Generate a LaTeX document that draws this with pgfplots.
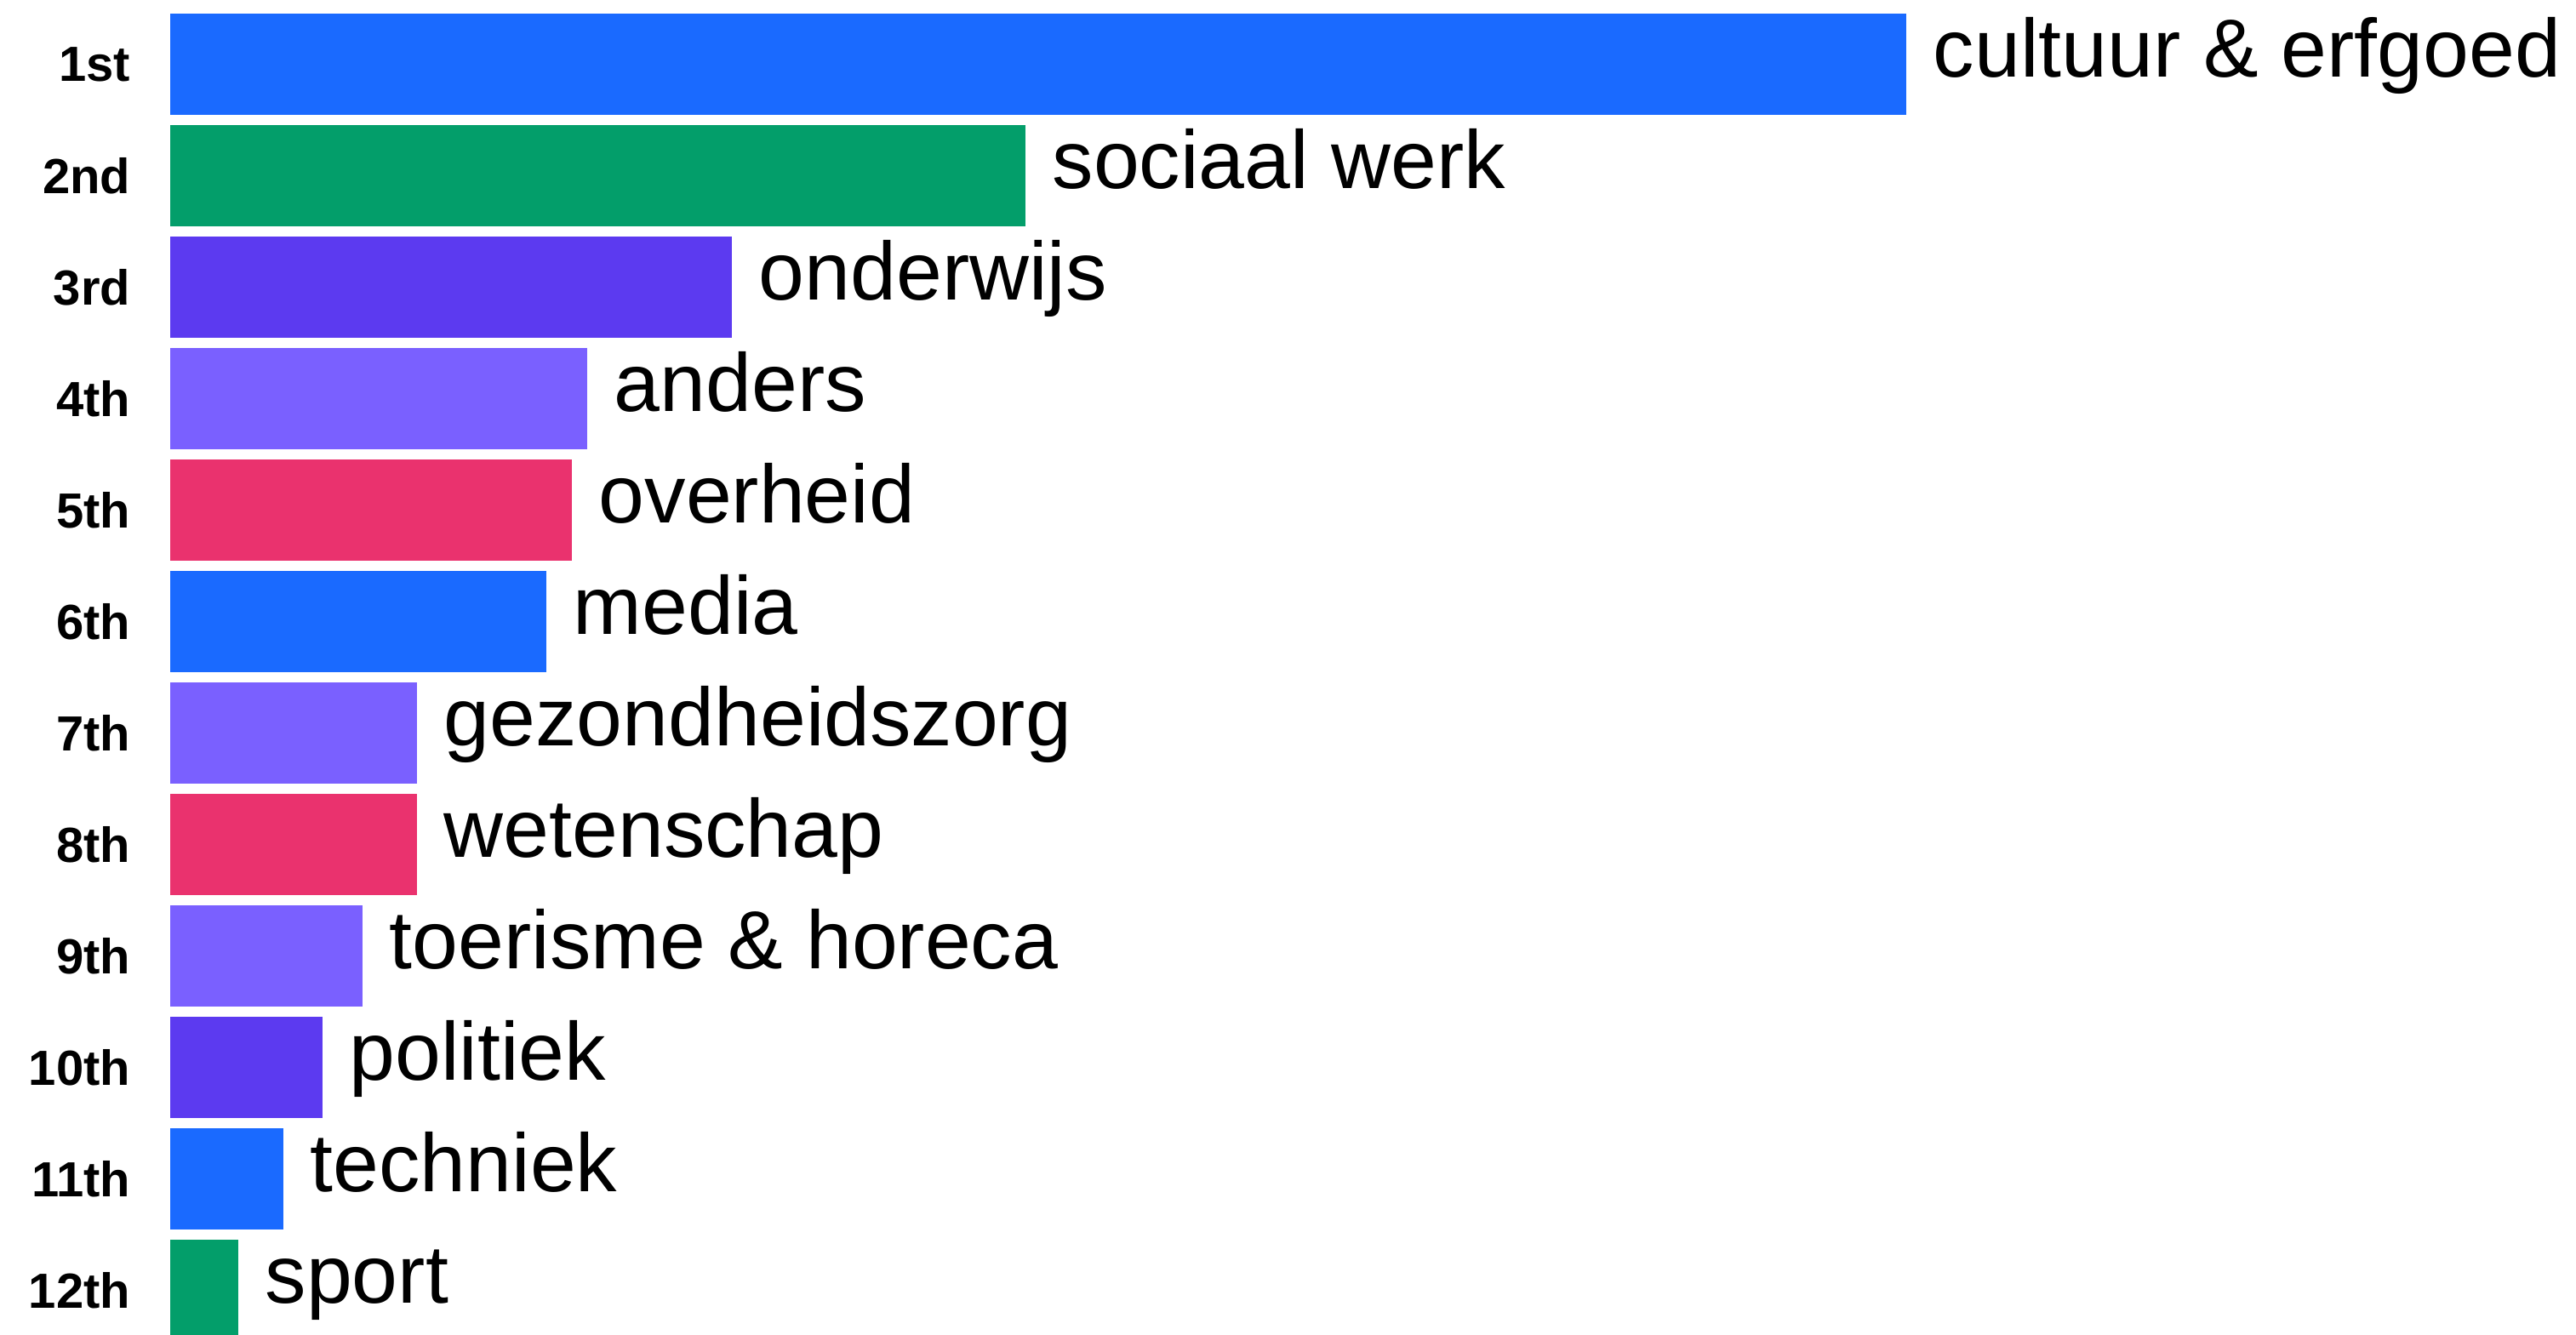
\documentclass[border=0pt]{standalone}
\usepackage{fontspec}
\setmainfont{Liberation Sans}
\usepackage{pgfplots}
\pgfplotsset{compat=1.18}
\definecolor{cblue}{HTML}{1A6AFF}
\definecolor{cgreen}{HTML}{039E6A}
\definecolor{cdpurple}{HTML}{5C3AF0}
\definecolor{clpurple}{HTML}{7A60FF}
\definecolor{cpink}{HTML}{EA326E}
\pgfplotsset{mybar/.style={xbar, bar width=29.75pt, bar shift=0pt, draw=none, fill=#1}}
\begin{document}
\begin{tikzpicture}
\path[use as bounding box] (-50pt,0pt) rectangle (706.75pt,392.25pt);
\clip (-50pt,0pt) rectangle (706.75pt,392.25pt);
\begin{axis}[
  at={(0pt,0pt)}, anchor=south west,
  scale only axis, width=706.75pt, height=392.25pt,
  xmin=0, xmax=138.578, ymin=0.4237, ymax=12.401, y dir=reverse,
  axis line style={draw=none}, xtick=\empty,
  ytick={1,2,3,4,5,6,7,8,9,10,11,12},
  yticklabels={1st,2nd,3rd,4th,5th,6th,7th,8th,9th,10th,11th,12th},
  major tick length=0pt, tick style={draw=none},
  yticklabel style={font=\fontsize{14.5}{17}\selectfont\bfseries, inner sep=0pt, xshift=-11.5pt, anchor=east},
]
\addplot[mybar=cblue] coordinates {(100,1)};
\addplot[mybar=cgreen] coordinates {(49.26,2)};
\addplot[mybar=cdpurple] coordinates {(32.35,3)};
\addplot[mybar=clpurple] coordinates {(24.02,4)};
\addplot[mybar=cpink] coordinates {(23.14,5)};
\addplot[mybar=cblue] coordinates {(21.67,6)};
\addplot[mybar=clpurple] coordinates {(14.22,7)};
\addplot[mybar=cpink] coordinates {(14.22,8)};
\addplot[mybar=clpurple] coordinates {(11.08,9)};
\addplot[mybar=cdpurple] coordinates {(8.77,10)};
\addplot[mybar=cblue] coordinates {(6.52,11)};
\addplot[mybar=cgreen] coordinates {(3.92,12)};
\addplot[draw=none, mark=none, point meta=explicit symbolic, nodes near coords,
  nodes near coords style={anchor=base west, inner sep=0pt, xshift=7.75pt, yshift=-3.75pt, text=black, font=\fontsize{24.2}{28}\selectfont}]
 coordinates {
 (100,1) [cultuur \& erfgoed]
 (49.26,2) [sociaal werk]
 (32.35,3) [onderwijs]
 (24.02,4) [anders]
 (23.14,5) [overheid]
 (21.67,6) [media]
 (14.22,7) [gezondheidszorg]
 (14.22,8) [wetenschap]
 (11.08,9) [toerisme \& horeca]
 (8.77,10) [politiek]
 (6.52,11) [techniek]
 (3.92,12) [sport]
 };
\end{axis}
\end{tikzpicture}
\end{document}
